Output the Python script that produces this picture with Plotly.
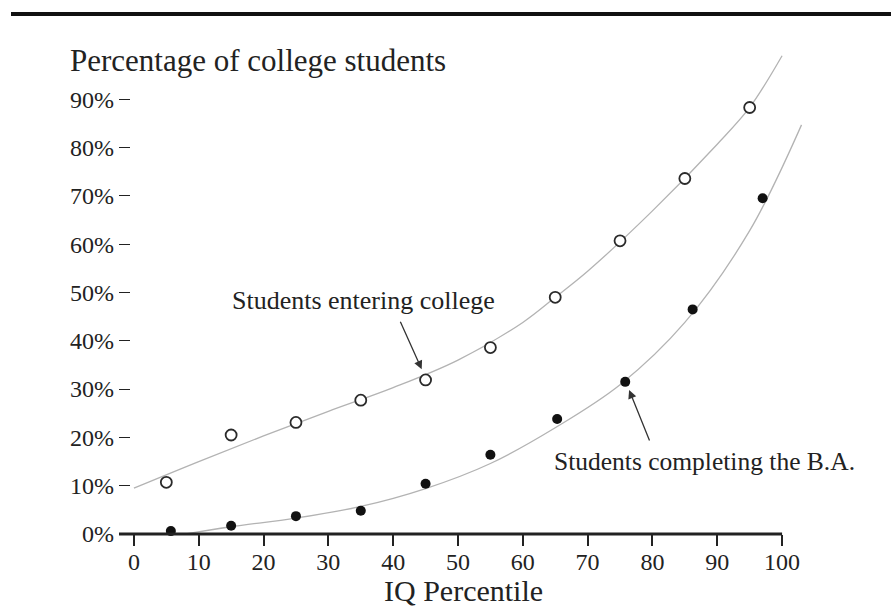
import plotly.graph_objects as go

# ---- data ----
iq_entering = [5, 15, 25, 35, 45, 55, 65, 75, 85, 95]
pct_entering = [10.7, 20.5, 23.1, 27.7, 31.9, 38.6, 49.0, 60.7, 73.6, 88.3]

iq_completing = [5.7, 15, 25, 35, 45, 55, 65.3, 75.8, 86.2, 97]
pct_completing = [0.6, 1.7, 3.7, 4.8, 10.4, 16.4, 23.8, 31.5, 46.5, 69.5]

# fitted curves
fit_entering_x = [0, 10, 20, 30, 40, 50, 60, 65, 70, 80, 90, 95, 100]
fit_entering_y = [9.5, 15.0, 20.3, 25.4, 30.3, 36.0, 43.8, 49.0, 54.4, 66.9, 80.7, 88.3, 99.0]

fit_completing_x = [8, 15, 25, 35, 45, 55, 65, 75, 85, 95, 103]
fit_completing_y = [0, 1.5, 3.3, 5.7, 9.4, 14.6, 22.0, 30.9, 43.8, 62.8, 84.7]

x_ticks = [0, 10, 20, 30, 40, 50, 60, 70, 80, 90, 100]
y_ticks = [0, 10, 20, 30, 40, 50, 60, 70, 80, 90]
y_tick_labels = [f"{v}%" for v in y_ticks]

W, H = 891, 611
ML, MR, MT, MB = 119, 83, 50, 77
X_RANGE = [-2.3, 104]
Y_RANGE = [0, 100.2]

FONT = "Liberation Serif, Times New Roman, serif"
INK = "#222222"
CURVE = "#b3b3b3"

fig = go.Figure()

fig.add_trace(go.Scatter(x=fit_entering_x, y=fit_entering_y, mode="lines",
                         line=dict(color=CURVE, width=1.3, shape="spline", smoothing=1.0),
                         hoverinfo="skip", showlegend=False))
fig.add_trace(go.Scatter(x=fit_completing_x, y=fit_completing_y, mode="lines",
                         line=dict(color=CURVE, width=1.3, shape="spline", smoothing=1.0),
                         hoverinfo="skip", showlegend=False))

fig.add_trace(go.Scatter(x=iq_entering, y=pct_entering, mode="markers",
                         marker=dict(symbol="circle", size=11, color="white",
                                     line=dict(color="#2a2a2a", width=1.8)),
                         cliponaxis=False, showlegend=False, name="Students entering college"))
fig.add_trace(go.Scatter(x=iq_completing, y=pct_completing, mode="markers",
                         marker=dict(symbol="circle", size=10, color="#111111",
                                     line=dict(width=0)),
                         cliponaxis=False, showlegend=False, name="Students completing the B.A."))

plot_w = W - ML - MR
plot_h = H - MT - MB
def xpaper(v):
    return (v - X_RANGE[0]) / (X_RANGE[1] - X_RANGE[0])
def px_to_paper_x(px):
    return (px - ML) / plot_w
def py_to_paper_y(py):
    return (H - MB - py) / plot_h

shapes = [
    # x axis line ending at 100
    dict(type="line", xref="paper", yref="paper", x0=0, x1=xpaper(100), y0=0, y1=0,
         line=dict(color=INK, width=3)),
    # top rule
    dict(type="line", xref="paper", yref="paper", x0=px_to_paper_x(11), x1=px_to_paper_x(891),
         y0=py_to_paper_y(14), y1=py_to_paper_y(14), line=dict(color="#111111", width=4)),
]

annotations = [
    dict(text="Percentage of college students", xref="paper", yref="paper", x=0, y=1,
         xanchor="left", yanchor="middle", xshift=68 - ML, yshift=-10, showarrow=False,
         font=dict(family=FONT, size=31, color=INK)),
    dict(text="IQ Percentile", xref="paper", yref="paper", x=0.5, y=0,
         xanchor="center", yanchor="middle", yshift=-56, showarrow=False,
         font=dict(family=FONT, size=30, color=INK)),
    dict(text="Students entering college", xref="x", yref="y", x=14.8, y=48.4,
         xanchor="left", yanchor="middle", showarrow=False,
         font=dict(family=FONT, size=26, color=INK)),
    dict(text="Students completing the B.A.", xref="x", yref="y", x=64.5, y=15.0,
         xanchor="left", yanchor="middle", showarrow=False,
         font=dict(family=FONT, size=25.5, color=INK)),
    dict(text="", xref="x", yref="y", x=44.4, y=34.1, ax=-22, ay=-49,
         showarrow=True, arrowhead=2, arrowsize=1.3, arrowwidth=1.3, arrowcolor="#333333"),
    dict(text="", xref="x", yref="y", x=76.4, y=29.8, ax=21, ay=52,
         showarrow=True, arrowhead=2, arrowsize=1.3, arrowwidth=1.3, arrowcolor="#333333"),
]

fig.update_layout(
    width=W, height=H,
    margin=dict(l=ML, r=MR, t=MT, b=MB, pad=0),
    paper_bgcolor="white", plot_bgcolor="white",
    font=dict(family=FONT, color=INK),
    shapes=shapes, annotations=annotations,
    xaxis=dict(range=X_RANGE, tickmode="array", tickvals=x_ticks,
               ticktext=[str(v) for v in x_ticks],
               ticks="outside", ticklen=11, tickwidth=1.5, tickcolor=INK,
               ticklabelstandoff=-5,
               showgrid=False, zeroline=False, showline=False,
               tickfont=dict(family=FONT, size=24, color=INK)),
    yaxis=dict(range=Y_RANGE, tickmode="array", tickvals=y_ticks, ticktext=y_tick_labels,
               ticks="inside", ticklen=11, tickwidth=1.3, tickcolor=INK,
               ticklabelstandoff=4,
               showgrid=False, zeroline=False, showline=False,
               tickfont=dict(family=FONT, size=24, color=INK)),
)

fig.write_html("out.html", config={"displayModeBar": False},
               post_script="document.body.style.margin='0';document.body.style.padding='0';")
